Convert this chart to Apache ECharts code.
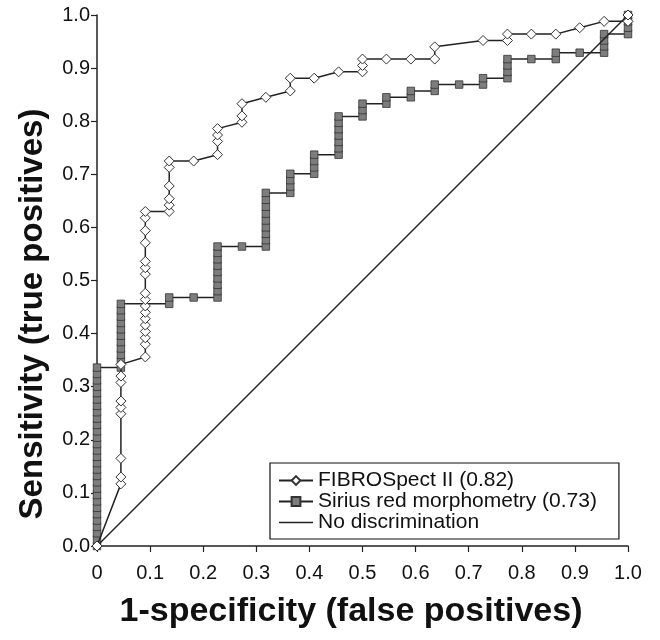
<!DOCTYPE html>
<html style="height: 100%">
<head>
    <meta charset="utf-8">
    <title>ROC</title>
    <script src="https://cdn.jsdelivr.net/npm/echarts@6/dist/echarts.min.js"></script>
</head>
<body style="height: 100%; margin: 0; background: #fff;">
<div id="container" style="width: 660px; height: 640px;"></div>
<script type="text/javascript">
    // 1-specificity / sensitivity
    var fibroX = [0,
        0.045, 0.045, 0.045, 0.045, 0.045, 0.045, 0.045, 0.045, 0.045,
        0.091, 0.091, 0.091, 0.091, 0.091, 0.091, 0.091, 0.091, 0.091, 0.091,
        0.091, 0.091, 0.091, 0.091, 0.091, 0.091, 0.091,
        0.136, 0.136, 0.136, 0.136, 0.136, 0.136,
        0.182,
        0.227, 0.227, 0.227, 0.227,
        0.273, 0.273, 0.273,
        0.318,
        0.364, 0.364,
        0.409,
        0.455,
        0.5, 0.5, 0.5,
        0.545, 0.591, 0.636, 0.636,
        0.727, 0.773, 0.773, 0.818, 0.864, 0.909, 0.955, 1, 1];
    var fibroY = [0,
        0.117, 0.130, 0.165, 0.249, 0.261, 0.273, 0.308, 0.320, 0.342,
        0.356, 0.380, 0.392, 0.404, 0.416, 0.428, 0.440, 0.452, 0.464, 0.476,
        0.512, 0.524, 0.536, 0.571, 0.594, 0.618, 0.630,
        0.630, 0.642, 0.654, 0.678, 0.713, 0.725,
        0.725,
        0.737, 0.762, 0.774, 0.786,
        0.798, 0.810, 0.833,
        0.845,
        0.857, 0.881,
        0.881,
        0.893,
        0.893, 0.905, 0.917,
        0.917, 0.917, 0.917, 0.940,
        0.952, 0.952, 0.964, 0.964, 0.964, 0.976, 0.988, 0.988, 1.0];

    var siriusX = [0, 0, 0, 0, 0, 0, 0, 0, 0, 0, 0, 0, 0, 0, 0,
        0, 0, 0, 0, 0, 0, 0, 0, 0, 0, 0, 0, 0, 0,
        0.045, 0.045, 0.045, 0.045, 0.045, 0.045, 0.045, 0.045, 0.045, 0.045, 0.045,
        0.136, 0.136,
        0.182,
        0.227, 0.227, 0.227, 0.227, 0.227, 0.227, 0.227, 0.227, 0.227,
        0.273,
        0.318, 0.318, 0.318, 0.318, 0.318, 0.318, 0.318, 0.318, 0.318,
        0.364, 0.364, 0.364, 0.364,
        0.409, 0.409, 0.409, 0.409,
        0.455, 0.455, 0.455, 0.455, 0.455, 0.455, 0.455,
        0.5, 0.5, 0.5,
        0.545, 0.545,
        0.591, 0.591,
        0.636, 0.636,
        0.682,
        0.727, 0.727,
        0.773, 0.773, 0.773, 0.773,
        0.818,
        0.864, 0.864,
        0.909,
        0.955, 0.955, 0.955, 0.955,
        1, 1, 1, 1];
    var siriusY = [0, 0.012, 0.024, 0.036, 0.048, 0.060, 0.072, 0.084, 0.096, 0.108, 0.120, 0.132, 0.144, 0.156, 0.168,
        0.180, 0.192, 0.204, 0.216, 0.228, 0.240, 0.252, 0.264, 0.276, 0.288, 0.300, 0.312, 0.324, 0.336,
        0.336, 0.348, 0.360, 0.372, 0.384, 0.396, 0.408, 0.420, 0.432, 0.444, 0.456,
        0.456, 0.468,
        0.468,
        0.468, 0.480, 0.492, 0.504, 0.516, 0.528, 0.540, 0.552, 0.564,
        0.564,
        0.564, 0.576, 0.588, 0.600, 0.613, 0.626, 0.639, 0.652, 0.665,
        0.665, 0.677, 0.689, 0.701,
        0.701, 0.713, 0.725, 0.737,
        0.737, 0.749, 0.761, 0.773, 0.785, 0.797, 0.809,
        0.809, 0.821, 0.833,
        0.833, 0.845,
        0.845, 0.857,
        0.857, 0.869,
        0.869,
        0.869, 0.881,
        0.881, 0.893, 0.905, 0.917,
        0.917,
        0.917, 0.929,
        0.929,
        0.929, 0.941, 0.952, 0.964,
        0.964, 0.976, 0.988, 1.0];

    var chanceX = [0, 1];
    var chanceY = [0, 1];

    var seriesNames = ['FIBROSpect II (0.82)', 'Sirius red morphometry (0.73)', 'No discrimination'];
    var xTitle = '1-specificity (false positives)';
    var yTitle = 'Sensitivity (true positives)';

    function pairs(xs, ys) {
        var out = [];
        for (var i = 0; i < xs.length; i++) {
            out.push([xs[i], ys[i]]);
        }
        return out;
    }

    var myChart = echarts.init(document.getElementById('container'));
    var font = 'Liberation Sans, Arial, Helvetica, sans-serif';
    var option = {
        backgroundColor: '#fff',
        animation: false,
        textStyle: {fontFamily: font},
        grid: {left: 97, right: 32, top: 15, bottom: 94, containLabel: false, outerBoundsMode: 'none'},
        graphic: [
            {
                type: 'text', x: 351, y: 612,
                style: {text: xTitle, fontSize: 34, fontWeight: 'bold', fontFamily: font, fill: '#111',
                    align: 'center', verticalAlign: 'middle'}
            },
            {
                type: 'text', x: 33, y: 314, rotation: Math.PI / 2,
                style: {text: yTitle, fontSize: 33, fontWeight: 'bold', fontFamily: font, fill: '#111',
                    align: 'center', verticalAlign: 'middle'}
            }
        ],
        legend: {
            data: [
                {name: seriesNames[0]},
                {name: seriesNames[1]},
                {name: seriesNames[2], icon: 'path://M0,0H34V1.5H0Z'}
            ],
            orient: 'vertical',
            left: 270,
            top: 463,
            itemWidth: 34,
            itemHeight: 11,
            itemGap: 0,
            padding: [7, 22, 6, 8],
            borderColor: '#111',
            borderWidth: 1.2,
            textStyle: {fontSize: 21, color: '#111', fontFamily: font, lineHeight: 20}
        },
        xAxis: {
            type: 'value',
            min: 0,
            max: 1,
            interval: 0.1,
            axisLine: {lineStyle: {color: '#222', width: 1.5}},
            axisTick: {show: true, length: 6, lineStyle: {color: '#222', width: 1.2}},
            axisLabel: {
                fontSize: 20, color: '#111', margin: 17,
                formatter: function (v) { return v === 0 ? '0' : v.toFixed(1); }
            },
            splitLine: {show: false}
        },
        yAxis: {
            type: 'value',
            min: 0,
            max: 1,
            interval: 0.1,
            axisLine: {show: true, lineStyle: {color: '#222', width: 1.5}},
            axisTick: {show: true, length: 6, lineStyle: {color: '#222', width: 1.2}},
            axisLabel: {
                fontSize: 20, color: '#111', margin: 7,
                formatter: function (v) { return v.toFixed(1); }
            },
            splitLine: {show: false}
        },
        series: [
            {
                name: seriesNames[1],
                type: 'line',
                data: pairs(siriusX, siriusY),
                symbol: 'rect',
                symbolSize: 7.5,
                showAllSymbol: true,
                itemStyle: {color: '#7d7d7d', borderColor: '#333', borderWidth: 0.8},
                lineStyle: {color: '#222', width: 1.5},
                z: 2
            },
            {
                name: seriesNames[2],
                type: 'line',
                data: pairs(chanceX, chanceY),
                symbol: 'none',
                itemStyle: {color: '#222'},
                lineStyle: {color: '#222', width: 1.5},
                z: 3
            },
            {
                name: seriesNames[0],
                type: 'line',
                data: pairs(fibroX, fibroY),
                symbol: 'diamond',
                symbolSize: 10,
                showAllSymbol: true,
                itemStyle: {color: '#fff', borderColor: '#333', borderWidth: 1},
                lineStyle: {color: '#222', width: 1.5},
                z: 4
            }
        ]
    };
    myChart.setOption(option);
</script>
</body>
</html>
